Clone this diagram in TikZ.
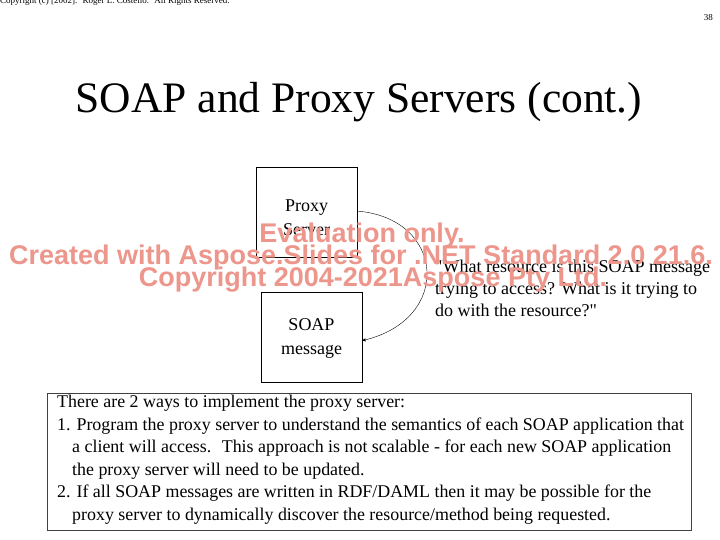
\documentclass[tikz,border=0pt]{standalone}
\usepackage{fontspec}
\setmainfont{Liberation Serif}
\newfontfamily\wmfont{Liberation Sans}
\usetikzlibrary{arrows, calc}

\definecolor{wmred}{RGB}{236,150,140}

\begin{document}
\begin{tikzpicture}[
    x=1pt, y=-1pt,
    >=stealth',
    box/.style={draw, thin, minimum width=101pt, minimum height=90pt},
    boxtext/.style={align=center, inner sep=0, font=\fontsize{18}{24}\selectfont},
    wmark/.style={text=wmred, font=\wmfont\bfseries\fontsize{27}{28}\selectfont}]

    \useasboundingbox[fill=white] (0,0) rectangle (720,540);

    % header and page number
    \node[anchor=base west, inner sep=0, font=\fontsize{9}{10}\selectfont] (copyr) at (0,3.5)
        {Copyright (c) [2002].~ Roger L. Costello.~ All Rights Reserved.};
    \node[anchor=base east, inner sep=0, font=\fontsize{9}{10}\selectfont] (pageno) at (713,21) {38};

    % title
    \node[anchor=base, inner sep=0, font=\fontsize{43.5}{50}\selectfont] (title) at (359,113)
        {SOAP and Proxy Servers (cont.)};

    % the two boxes
    \node[box] (proxy) at (306.5,212) {};
    \node[boxtext] (proxylbl) at ($(proxy.center)+(0,6)$) {Proxy\\Server};
    \node[box] (soap) at (311.5,337) {};
    \node[boxtext] (soaplbl) at ($(soap.center)+(0,1)$) {SOAP\\message};

    % question
    \node[anchor=base west, inner sep=0, align=left, font=\fontsize{18}{22}\selectfont] (quest) at (435,316)
        {\textquotedbl What resource is this SOAP message\\trying to access? What is it trying to\\do with the resource?\textquotedbl};

    % arc from proxy to message
    \draw[->] ($(proxy.north east)!0.49!(proxy.south east)$)
        .. controls +(88,7) and +(91,-21) .. ($(soap.north east)!0.54!(soap.south east)$);

    % the two ways
    \node[draw, line width=1.2pt, draw=black!75, anchor=north west, inner sep=0,
        minimum width=644pt, minimum height=137pt] (ways) at (47,393) {};
    \node[anchor=base west, inner sep=0, align=left, font=\fontsize{17.9}{22.5}\selectfont] (waystext) at (57,520)
        {There are 2 ways to implement the proxy server:\\
        1. Program the proxy server to understand the semantics of each SOAP application that\\
        \hspace*{15pt}a client will access.~ This approach is not scalable - for each new SOAP application\\
        \hspace*{15pt}the proxy server will need to be updated.\\
        2. If all SOAP messages are written in RDF/DAML then it may be possible for the\\
        \hspace*{15pt}proxy server to dynamically discover the resource/method being requested.};

    % watermark
    \node[wmark, anchor=base] (wm1) at (362,242) {Evaluation only.};
    \node[wmark, anchor=base] (wm2) at (361,264) {Created with Aspose.Slides for .NET Standard 2.0 21.6.};
    \node[wmark, anchor=base] (wm3) at (373,286) {Copyright 2004-2021Aspose Pty Ltd.};

\end{tikzpicture}
\end{document}
